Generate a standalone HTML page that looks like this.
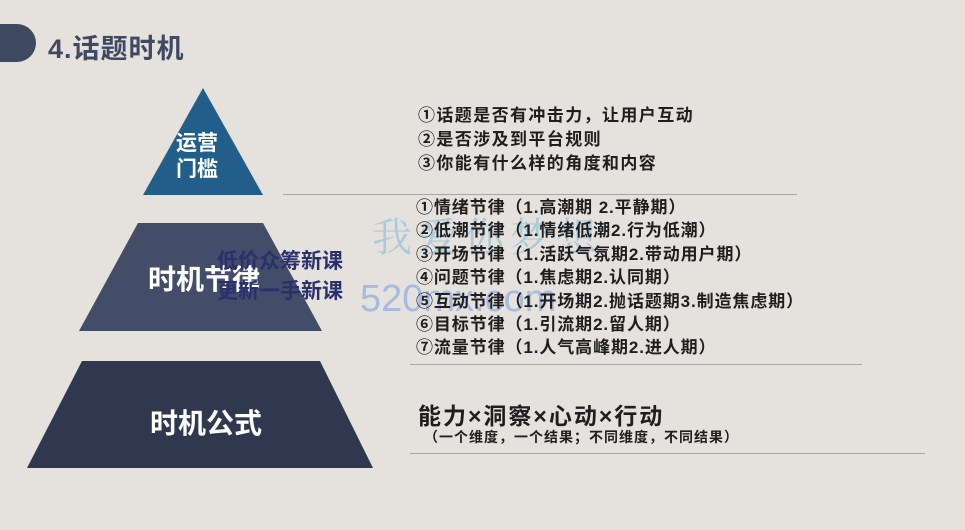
<!DOCTYPE html>
<html><head><meta charset="utf-8"><style>
body{margin:0;width:965px;height:530px;background:#e5e1dd;position:relative;overflow:hidden;font-family:"Liberation Sans","Noto Sans CJK SC",sans-serif;}
.t{position:absolute;white-space:nowrap;font-weight:bold;color:#1e1e1e;}
.l{position:absolute;height:1px;background:#a9a6a2;}
</style></head><body>
<div style="position:absolute;left:-20px;top:24px;width:56px;height:38px;border-radius:19px;background:#3f4a62"></div>
<div class="t" style="left:48px;top:27px;font-size:27px;color:#3f4a62;letter-spacing:1px">4.话题时机</div>
<svg width="965" height="530" style="position:absolute;left:0;top:0">
<polygon points="203,88 143,195 263,195" fill="#215f8a"/>
<polygon points="138,223 263,223 322,331 79,331" fill="#434d68"/>
<polygon points="82,361 320,361 373,468 27,468" fill="#303850"/>
</svg>
<div class="t" style="left:176px;top:131px;font-size:21px;line-height:26px;color:#fff;text-align:center">运营<br>门槛</div>
<div class="t" style="left:148px;top:258px;font-size:28px;color:#fff">时机节律</div>
<div class="t" style="left:150px;top:402px;font-size:28px;color:#fff">时机公式</div>
<div class="t" style="left:217px;top:247px;font-size:21px;color:#2a2f6e;line-height:30px">低价众筹新课<br>更新一手新课</div>
<div class="t" style="left:372px;top:206px;font-size:40px;color:rgba(80,170,220,0.4);font-weight:normal;font-family:'Noto Serif CJK SC',serif;letter-spacing:6px">我爱你梦想</div>
<div class="t" style="left:360px;top:278px;font-size:38px;color:rgba(90,140,230,0.45);font-weight:normal">520mx.com</div>
<div class="t" style="left:418px;top:104px;font-size:17px;line-height:24px;letter-spacing:1.4px">①话题是否有冲击力，让用户互动<br>②是否涉及到平台规则<br>③你能有什么样的角度和内容</div>
<div class="l" style="left:283px;top:194px;width:514px"></div>
<div class="t" style="left:416px;top:196px;font-size:17px;line-height:23.4px;letter-spacing:0.9px">①情绪节律（1.高潮期 2.平静期）<br>②低潮节律（1.情绪低潮2.行为低潮）<br>③开场节律（1.活跃气氛期2.带动用户期）<br>④问题节律（1.焦虑期2.认同期）<br>⑤互动节律（1.开场期2.抛话题期3.制造焦虑期）<br>⑥目标节律（1.引流期2.留人期）<br>⑦流量节律（1.人气高峰期2.进人期）</div>
<div class="l" style="left:410px;top:364px;width:452px"></div>
<div class="t" style="left:418px;top:397px;font-size:23px;letter-spacing:2px">能力×洞察×心动×行动</div>
<div class="t" style="left:424px;top:427px;font-size:14px;letter-spacing:1px">（一个维度，一个结果；不同维度，不同结果）</div>
<div class="l" style="left:410px;top:453px;width:515px"></div>
</body></html>
